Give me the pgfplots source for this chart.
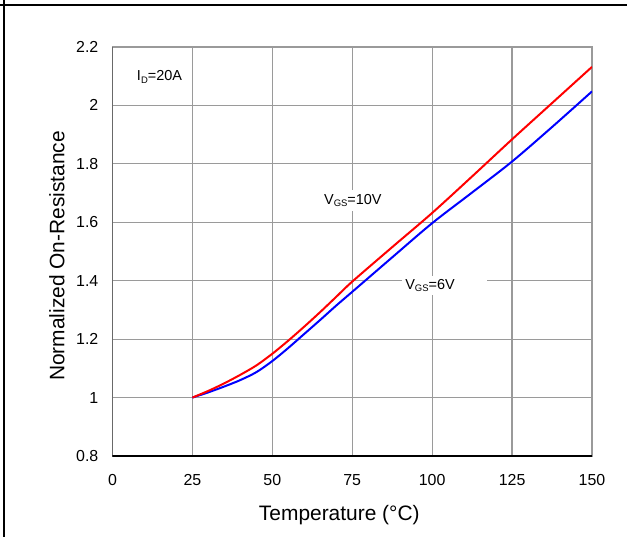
\documentclass[border=0pt]{standalone}
\usepackage{fontspec}
\setmainfont{Liberation Sans}
\usepackage{pgfplots}
\pgfplotsset{compat=1.18}
\definecolor{gridgray}{HTML}{9A9A9A}
\definecolor{axisdark}{HTML}{505050}
\newcommand{\sub}[1]{\raisebox{-0.3ex}{\fontsize{9.5}{9.5}\selectfont #1}}

\begin{document}
\begin{tikzpicture}
\begin{axis}[
  at={(0,0)}, anchor=south west,
  scale only axis, width=479.5bp, height=409bp,
  xmin=0, xmax=150, ymin=0.8, ymax=2.2,
  xtick={0,25,50,75,100,125,150},
  ytick={0.8,1,1.2,1.4,1.6,1.8,2,2.2},
  grid=major, grid style={gridgray, line width=1.2bp},
  major tick length=0pt,
  axis line style={gridgray, line width=1.3bp},
  /pgf/number format/assume math mode=true,
  tick label style={font=\fontsize{16}{16}\selectfont, inner sep=0pt},
  xticklabel style={anchor=center, yshift=-24bp},
  yticklabel style={anchor=east, xshift=-14bp},
  label style={font=\fontsize{21}{21}\selectfont},
  xlabel={Temperature (°C)},
  xlabel style={at={(axis description cs:0.473,-0.144)}, anchor=center},
  ylabel={Normalized On-Resistance},
  ylabel style={at={(axis description cs:-0.1157,0.489)}, anchor=center},
]
% V_GS = 6V
\addplot[blue, line width=2bp, smooth] coordinates {
  (25,1.000) (30,1.018) (35,1.038) (40,1.060) (45,1.087) (50,1.125)
  (55,1.170) (60,1.218) (65,1.266) (70,1.315) (75,1.362) (87.5,1.480)
  (100,1.597) (112.5,1.702) (125,1.808) (137.5,1.926) (150,2.048)};
% V_GS = 10V
\addplot[red, line width=2bp, smooth] coordinates {
  (25,1.000) (30,1.023) (35,1.049) (40,1.078) (45,1.110) (50,1.150)
  (55,1.195) (60,1.243) (65,1.293) (70,1.345) (75,1.397) (87.5,1.515)
  (100,1.632) (112.5,1.757) (125,1.884) (137.5,2.008) (150,2.132)};

\node[fill=white, inner sep=4bp, font=\fontsize{14.5}{14.5}\selectfont]
  at (axis cs:14.7,2.097) {I\sub{D}=20A};
\node[fill=white, inner sep=4bp, font=\fontsize{14.5}{14.5}\selectfont]
  at (axis cs:75.2,1.674) {V\sub{GS}=10V};
\node[fill=white, anchor=west, inner xsep=3bp, inner ysep=3bp, text width=79bp,
  align=left, font=\fontsize{14.5}{14.5}\selectfont]
  at (axis cs:90.6,1.384) {V\sub{GS}=6V};

\draw[axisdark, line width=1.5bp] (rel axis cs:0,1) -- (rel axis cs:0,0);
\draw[black, line width=1.5bp] (rel axis cs:0,0) -- (rel axis cs:1,0);
\end{axis}
\draw[black, line width=1.5bp] (-112.5bp,451bp) -- (514.5bp,451bp);
\draw[black, line width=1.5bp] (-108.5bp,-81bp) -- (-108.5bp,456bp);
\pgfresetboundingbox
\path[use as bounding box] (-112.5bp,-81bp) rectangle (514.5bp,456bp);
\end{tikzpicture}
\end{document}
